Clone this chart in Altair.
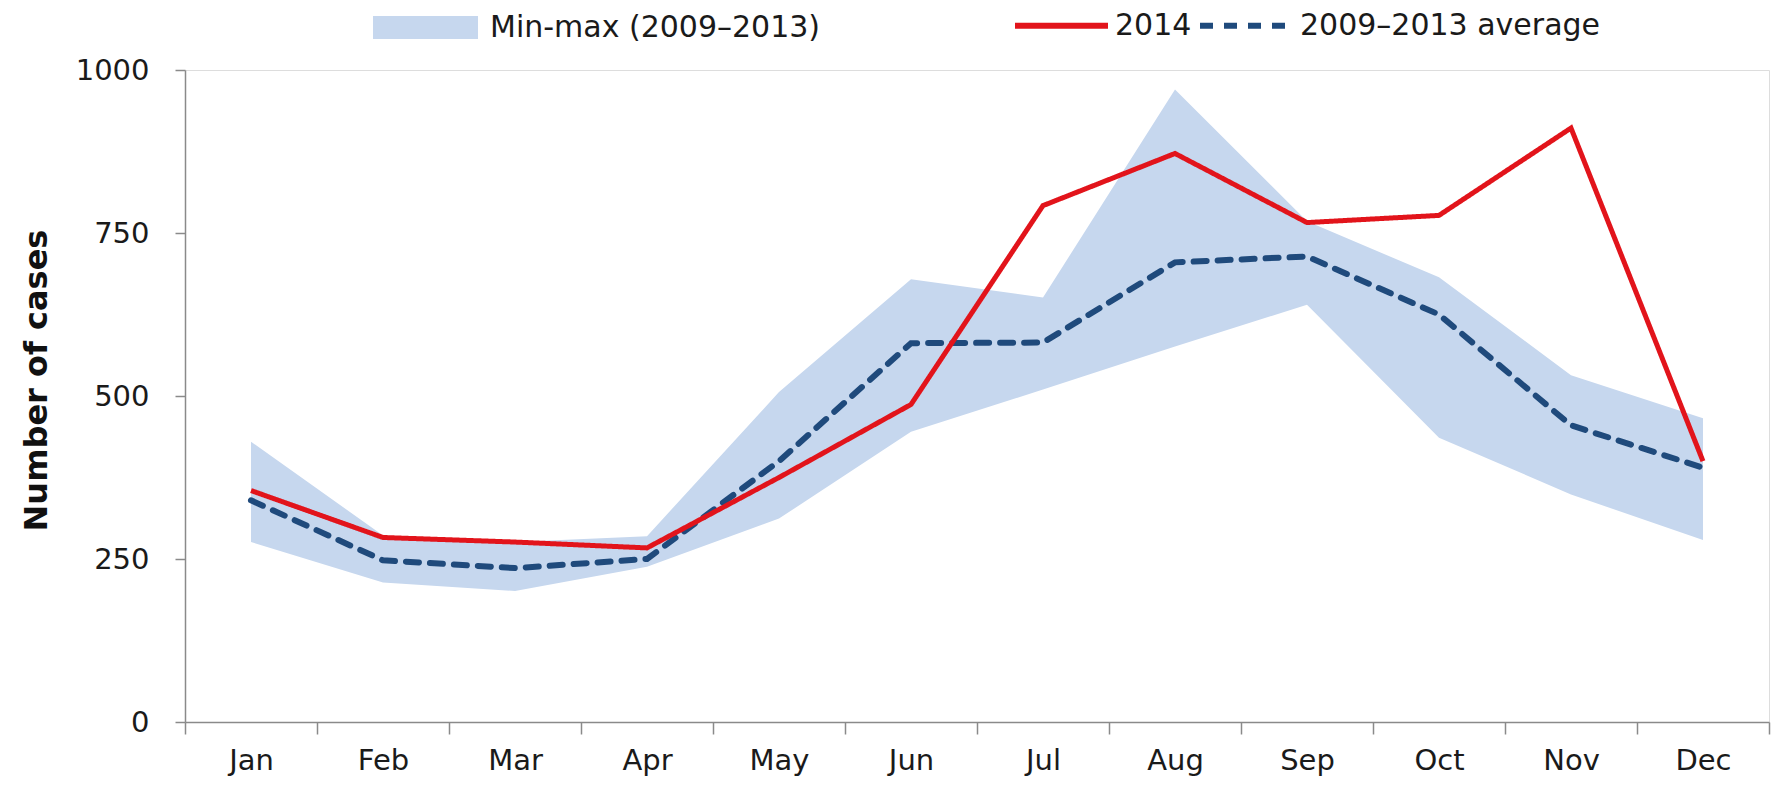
import altair as alt
import pandas as pd

months = ["Jan", "Feb", "Mar", "Apr", "May", "Jun", "Jul", "Aug", "Sep", "Oct", "Nov", "Dec"]
cases_2014 = [355, 283, 276, 267, 375, 487, 792, 872, 766, 777, 911, 400]
avg_0913 = [340, 248, 236, 250, 400, 581, 582, 705, 714, 625, 455, 390]
min_0913 = [276, 214, 201, 238, 312, 445, 510, 576, 640, 436, 349, 279]
max_0913 = [430, 286, 276, 285, 506, 679, 651, 970, 768, 682, 532, 466]

BAND_LABEL = "Min-max (2009–2013)"
S2014 = "2014"
SAVG = "2009–2013 average"

band_df = pd.DataFrame({"month": months, "lo": min_0913, "hi": max_0913, "lab": BAND_LABEL})
red_df = pd.DataFrame({"month": months, "cases": cases_2014, "series": S2014})
avg_df = pd.DataFrame({"month": months, "cases": avg_0913, "series": SAVG})

FONT = "DejaVu Sans"

x_enc = alt.X(
    "month:N",
    sort=months,
    bandPosition=0.5,
    scale=alt.Scale(type="band", paddingInner=0, paddingOuter=0),
    axis=alt.Axis(
        title=None, tickBand="extent", tickSize=12, tickColor="#8a8a8a", tickWidth=1.5,
        domainColor="#8a8a8a", domainWidth=1.5, labelFontSize=29, labelPadding=12,
        labelAngle=0, labelColor="#1a1a1a", labelFont=FONT, grid=False,
    ),
)

y_scale = alt.Scale(domain=[0, 1000], nice=False, zero=True)
y_axis = alt.Axis(
    title="Number of cases", values=[0, 250, 500, 750, 1000], format="d", tickSize=10,
    tickColor="#8a8a8a", tickWidth=1.5, domainColor="#8a8a8a", domainWidth=1.5,
    labelFontSize=29, labelPadding=26, labelColor="#1a1a1a", labelFont=FONT, grid=False,
    titleFont=FONT, titleFontSize=32, titleFontWeight="bold", titleColor="#111111",
    titleX=-149, titleY=310, titleAngle=270, titleAlign="center", titleBaseline="middle",
)

line_legend = alt.Legend(
    orient="none", legendX=827, legendY=-94, direction="horizontal", title=None,
    symbolType="stroke", symbolSize=8649, symbolStrokeWidth=6, labelFontSize=30,
    labelFont=FONT, labelColor="#1a1a1a", labelOffset=4, columnPadding=-4, labelLimit=1000,
)

line_color = alt.Color(
    "series:N",
    scale=alt.Scale(domain=[S2014, SAVG], range=["#e2141b", "#1f4a7c"]),
    legend=line_legend,
)
line_dash = alt.StrokeDash(
    "series:N",
    scale=alt.Scale(domain=[S2014, SAVG], range=[[1, 0], [13, 11]]),
    legend=line_legend,
)

band = alt.Chart(band_df).mark_area(opacity=1).encode(
    x=x_enc,
    y=alt.Y("lo:Q", scale=y_scale, axis=y_axis),
    y2="hi:Q",
    fill=alt.Fill(
        "lab:N",
        scale=alt.Scale(domain=[BAND_LABEL], range=["#c6d7ee"]),
        legend=alt.Legend(
            orient="none", legendX=188, legendY=-95, direction="horizontal", title=None,
            symbolType="M-1,-0.22L1,-0.22L1,0.22L-1,0.22Z", symbolSize=11025,
            symbolStrokeWidth=0, symbolOpacity=1, labelFontSize=30, labelFont=FONT,
            labelColor="#1a1a1a", labelOffset=12, labelLimit=1000,
        ),
    ),
)

avg_line = alt.Chart(avg_df).mark_line(strokeWidth=6, strokeCap="round").encode(
    x=x_enc,
    y=alt.Y("cases:Q", scale=y_scale, axis=y_axis),
    color=line_color,
    strokeDash=line_dash,
)

red_line = alt.Chart(red_df).mark_line(strokeWidth=5, strokeJoin="miter").encode(
    x=x_enc,
    y=alt.Y("cases:Q", scale=y_scale, axis=y_axis),
    color=line_color,
    strokeDash=line_dash,
)

chart = (
    alt.layer(band, avg_line, red_line)
    .properties(
        width=1584, height=652,
        autosize=alt.AutoSizeParams(type="none"),
        padding={"left": 177, "top": 62, "right": 5, "bottom": 58},
    )
    .configure_view(strokeWidth=0)
    .configure(background="white")
)

chart.save("out.html", embed_options={"renderer": "svg", "actions": False})
